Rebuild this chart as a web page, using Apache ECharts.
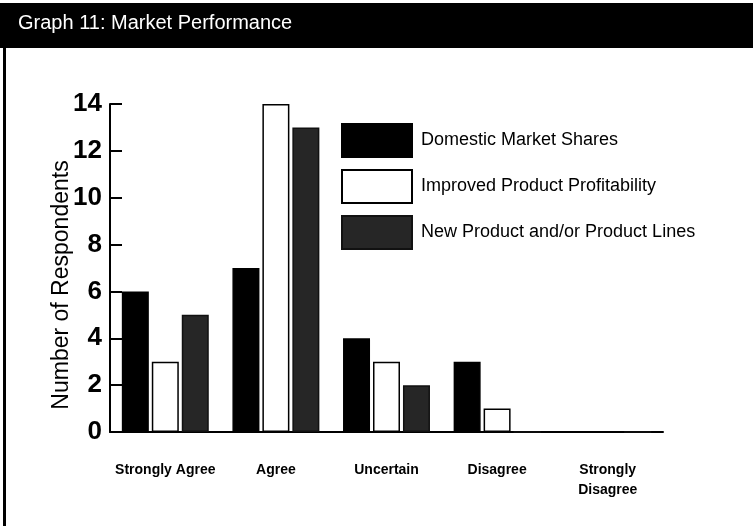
<!DOCTYPE html>
<html>
<head>
<meta charset="utf-8">
<script src="https://cdn.jsdelivr.net/npm/echarts@6/dist/echarts.min.js"></script>
<style>
  html, body { margin: 0; padding: 0; background: #fff; }
  #chart { width: 753px; height: 527px; }
</style>
</head>
<body>
<div id="chart"></div>
<script>
  // data
  const categories = ['Strongly Agree', 'Agree', 'Uncertain', 'Disagree', 'Strongly\nDisagree']
  const seriesNames = ['Domestic Market Shares', 'Improved Product Profitability', 'New Product and/or Product Lines']
  const domesticShares = [6, 7, 4, 3, 0]
  const improvedProfit = [3, 14, 3, 1, 0]
  const newProducts = [5, 13, 2, 0, 0]
  const yTicks = [0, 2, 4, 6, 8, 10, 12, 14]

  const FONT = '"Liberation Sans", Arial, Helvetica, sans-serif'

  let myChart = echarts.init(document.getElementById('chart'))

  function barSeries(name, data, fill, border) {
    return {
      name: name,
      type: 'bar',
      data: data,
      barWidth: 27,
      barGap: '11%',
      itemStyle: {
        color: fill,
        borderColor: border,
        borderWidth: 1.5
      }
    }
  }

  let option = {
    animation: false,
    backgroundColor: '#fff',
    title: {
      text: 'Graph 11: Market Performance',
      left: 18,
      top: 13,
      padding: 0,
      textStyle: {
        color: '#fff',
        fontFamily: FONT,
        fontSize: 20,
        fontWeight: 'normal'
      }
    },
    graphic: [
      {
        type: 'rect',
        z: -10,
        shape: { x: 0, y: 3, width: 753, height: 45 },
        style: { fill: '#000' }
      },
      {
        type: 'rect',
        z: -10,
        shape: { x: 3, y: 46, width: 3, height: 480 },
        style: { fill: '#000' }
      }
    ],
    legend: {
      orient: 'vertical',
      left: 336,
      top: 118,
      itemWidth: 70,
      itemHeight: 33,
      itemGap: 11,
      icon: 'rect',
      data: seriesNames,
      textStyle: {
        color: '#000',
        fontFamily: FONT,
        fontSize: 18,
        padding: [0, 0, 0, 4]
      }
    },
    grid: {
      left: 110,
      right: 90,
      top: 104,
      bottom: 95
    },
    xAxis: {
      type: 'category',
      data: categories,
      axisLine: {
        lineStyle: { color: '#000', width: 2 }
      },
      axisTick: {
        inside: true,
        length: 6,
        lineStyle: { color: '#000', width: 1.5 }
      },
      axisLabel: {
        interval: 0,
        margin: 28,
        color: '#000',
        fontFamily: FONT,
        fontSize: 14,
        fontWeight: 'bold',
        lineHeight: 20
      }
    },
    yAxis: {
      type: 'value',
      min: yTicks[0],
      max: yTicks[yTicks.length - 1],
      interval: 2,
      name: 'Number of Respondents',
      nameLocation: 'middle',
      nameGap: 37,
      nameMoveOverlap: false,
      nameRotate: 90,
      nameTextStyle: {
        color: '#000',
        fontFamily: FONT,
        fontSize: 23,
        padding: [0, 34, 0, 0]
      },
      splitLine: { show: false },
      axisLine: {
        show: true,
        lineStyle: { color: '#000', width: 2 }
      },
      axisTick: {
        show: true,
        inside: true,
        length: 12,
        lineStyle: { color: '#000', width: 2 }
      },
      axisLabel: {
        margin: 8,
        color: '#000',
        fontFamily: FONT,
        fontSize: 26,
        fontWeight: 'bold'
      }
    },
    series: [
      barSeries(seriesNames[0], domesticShares, '#000', '#000'),
      barSeries(seriesNames[1], improvedProfit, '#fff', '#000'),
      barSeries(seriesNames[2], newProducts, '#262626', '#111')
    ]
  }

  myChart.setOption(option)
</script>
</body>
</html>
